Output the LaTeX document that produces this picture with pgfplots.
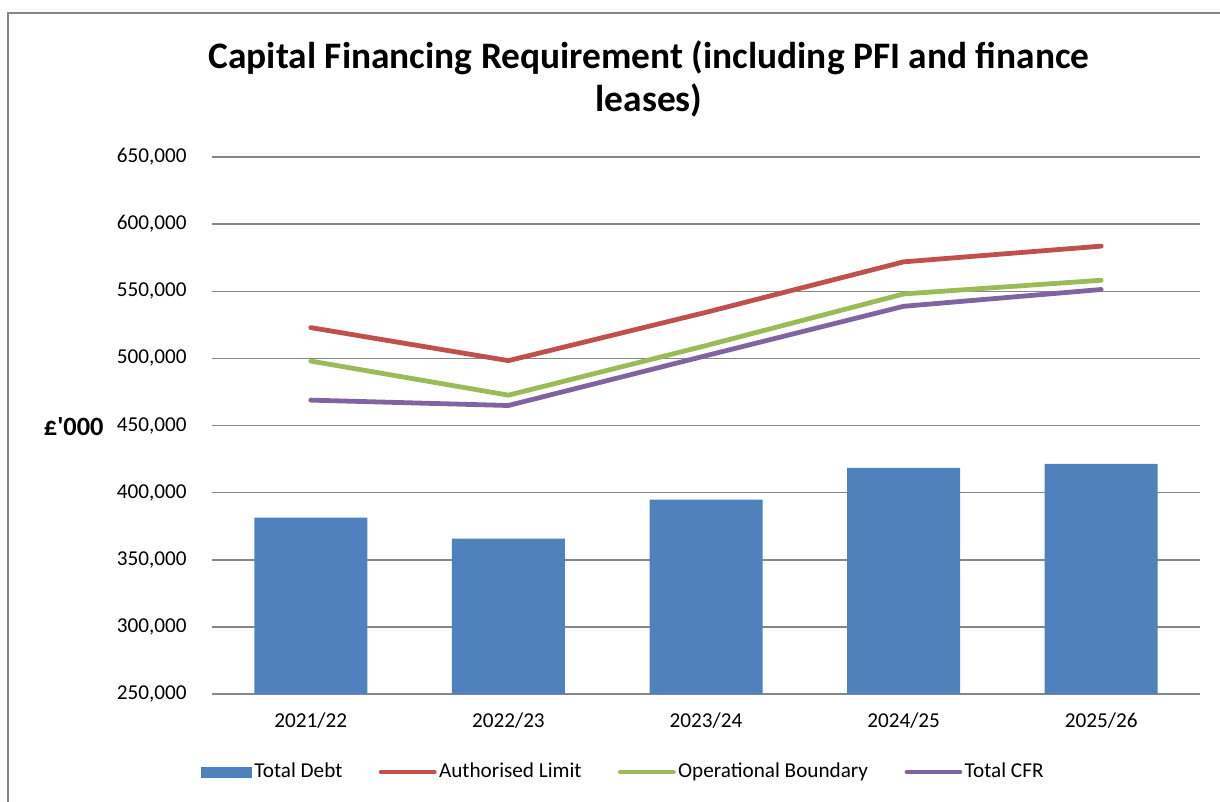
\documentclass[border=0pt]{standalone}
\usepackage{pgfplots}
\pgfplotsset{compat=1.18}
\usepackage{fontspec}
\setmainfont{Carlito}
\definecolor{cBlue}{RGB}{79,129,189}
\definecolor{cRed}{RGB}{192,80,77}
\definecolor{cGreen}{RGB}{155,187,89}
\definecolor{cPurple}{RGB}{128,100,162}
\definecolor{cGrid}{RGB}{134,134,134}
\begin{document}
\begin{tikzpicture}
\path[use as bounding box] (0,0) rectangle (610pt,-401pt);
\draw[cGrid, line width=1pt] (3.75pt,-405pt) -- (3.75pt,-6.5pt) -- (615pt,-6.5pt);
\node[font=\fontsize{18.7}{21.5}\selectfont\bfseries, align=center] at (324.5pt,-39.25pt) {Capital Financing Requirement (including PFI and finance\\leases)};
\node[font=\fontsize{13.2}{15}\selectfont\bfseries, anchor=east, inner sep=0pt] at (52pt,-213.3pt) {£\textquotesingle000};
\begin{axis}[
  at={(106pt,-347pt)}, anchor=south west,
  scale only axis, width=494pt, height=268.5pt,
  xmin=-0.5, xmax=4.5, ymin=250000, ymax=650000,
  xtick={0,1,2,3,4},
  xticklabels={2021/22,2022/23,2023/24,2024/25,2025/26},
  ytick={250000,300000,350000,400000,450000,500000,550000,600000,650000},
  scaled y ticks=false,
  /pgf/number format/assume math mode=true,
  /pgf/number format/fixed,
  /pgf/number format/precision=0,
  /pgf/number format/1000 sep={,},
  yticklabel style={anchor=east, inner sep=0pt, xshift=-12.5pt},
  xticklabel style={anchor=north, inner sep=0pt, yshift=-9pt},
  tick label style={font=\fontsize{10.6}{12}\selectfont},
  axis line style={draw=none},
  major tick style={draw=none},
  ymajorgrids,
  major grid style={cGrid, line width=0.75pt},
  legend columns=4,
  legend style={at={(0.4165,-0.1453)}, anchor=center, draw=none, fill=none,
    font=\fontsize{10.6}{12}\selectfont,
    nodes={inner sep=1.2pt},
    /tikz/every even column/.append style={column sep=17pt}},
  legend cell align=left,
]
\addplot[ybar, bar width=56.5pt, bar shift=0pt, fill=cBlue, draw=none,
  legend image code/.code={\fill[cBlue] (0pt,-2.75pt) rectangle (25.5pt,2.75pt);}]
  coordinates {(0,381300) (1,365700) (2,394800) (3,418400) (4,421400)};
\addlegendentry{Total Debt}
\addplot[cRed, line width=2.4pt, line cap=round, line join=round,
  legend image code/.code={\draw[cRed, line width=2.4pt, line cap=round] (0pt,0pt) -- (26.5pt,0pt);}]
  coordinates {(0,522900) (1,498300) (2,534300) (3,571900) (4,583600)};
\addlegendentry{Authorised Limit}
\addplot[cGreen, line width=2.4pt, line cap=round, line join=round,
  legend image code/.code={\draw[cGreen, line width=2.4pt, line cap=round] (0pt,0pt) -- (26.5pt,0pt);}]
  coordinates {(0,498000) (1,472600) (2,509500) (3,548000) (4,558200)};
\addlegendentry{Operational Boundary}
\addplot[cPurple, line width=2.4pt, line cap=round, line join=round,
  legend image code/.code={\draw[cPurple, line width=2.4pt, line cap=round] (0pt,0pt) -- (26.5pt,0pt);}]
  coordinates {(0,468900) (1,464900) (2,502000) (3,538800) (4,551300)};
\addlegendentry{Total CFR}
\end{axis}
\end{tikzpicture}
\end{document}
